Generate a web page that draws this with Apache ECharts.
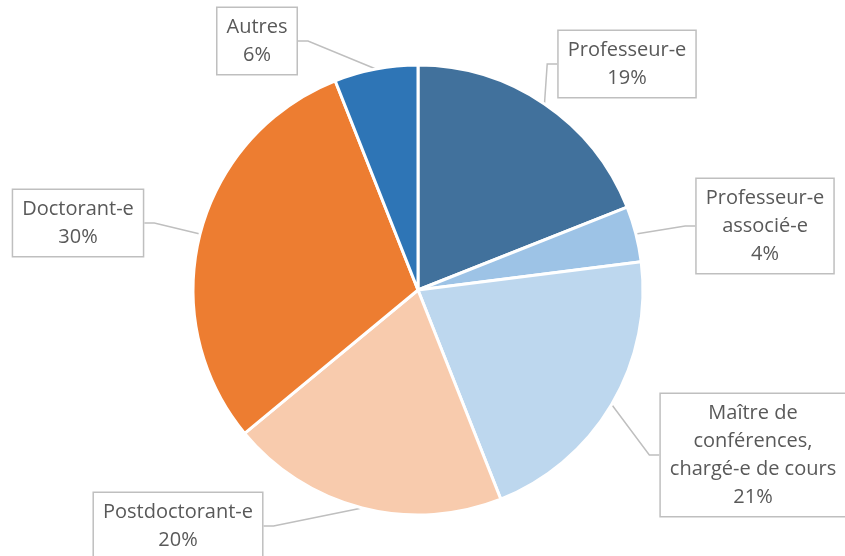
<!DOCTYPE html>
<html>
<head>
<meta charset="utf-8">
<script src="https://cdn.jsdelivr.net/npm/echarts@6/dist/echarts.min.js"></script>
<style>
  html, body { margin: 0; padding: 0; background: #fff; }
  #chart { width: 845px; height: 556px; }
</style>
</head>
<body>
<div id="chart"></div>
<script>
const categories = ['Professeur-e', 'Professeur-e\nassocié-e', 'Maître de\nconférences,\nchargé-e de cours', 'Postdoctorant-e', 'Doctorant-e', 'Autres']
const values = [19, 4, 21, 20, 30, 6]
const colors = ['#41719c', '#9dc3e6', '#bdd7ee', '#f8cbad', '#ed7d31', '#2e75b6']

// label box centres
const labelPos = [[627, 64], [765, 226], [753, 455], [178, 526], [78, 223], [257, 41]]

const chart = echarts.init(document.getElementById('chart'))

chart.setOption({
  animation: false,
  series: [
    {
      type: 'pie',
      center: [418, 290],
      radius: 225,
      startAngle: 90,
      clockwise: true,
      itemStyle: {
        borderColor: '#fff',
        borderWidth: 3
      },
      label: {
        show: true,
        formatter: '{b}\n{d}%',
        fontFamily: 'Open Sans',
        fontSize: 20,
        lineHeight: 28,
        color: '#595959',
        align: 'center',
        backgroundColor: '#fff',
        borderColor: '#bfbfbf',
        borderWidth: 1.5,
        padding: [5, 9, 5, 9]
      },
      labelLine: {
        show: true,
        length: 20,
        length2: 10,
        lineStyle: { color: '#bfbfbf', width: 1.5 }
      },
      labelLayout: function (params) {
        const p = labelPos[params.dataIndex]
        return {
          x: p[0],
          y: p[1],
          align: 'center',
          verticalAlign: 'middle',
          moveOverlap: false
        }
      },
      data: categories.map((c, i) => ({
        name: c,
        value: values[i],
        itemStyle: { color: colors[i] }
      }))
    }
  ]
})
</script>
</body>
</html>
